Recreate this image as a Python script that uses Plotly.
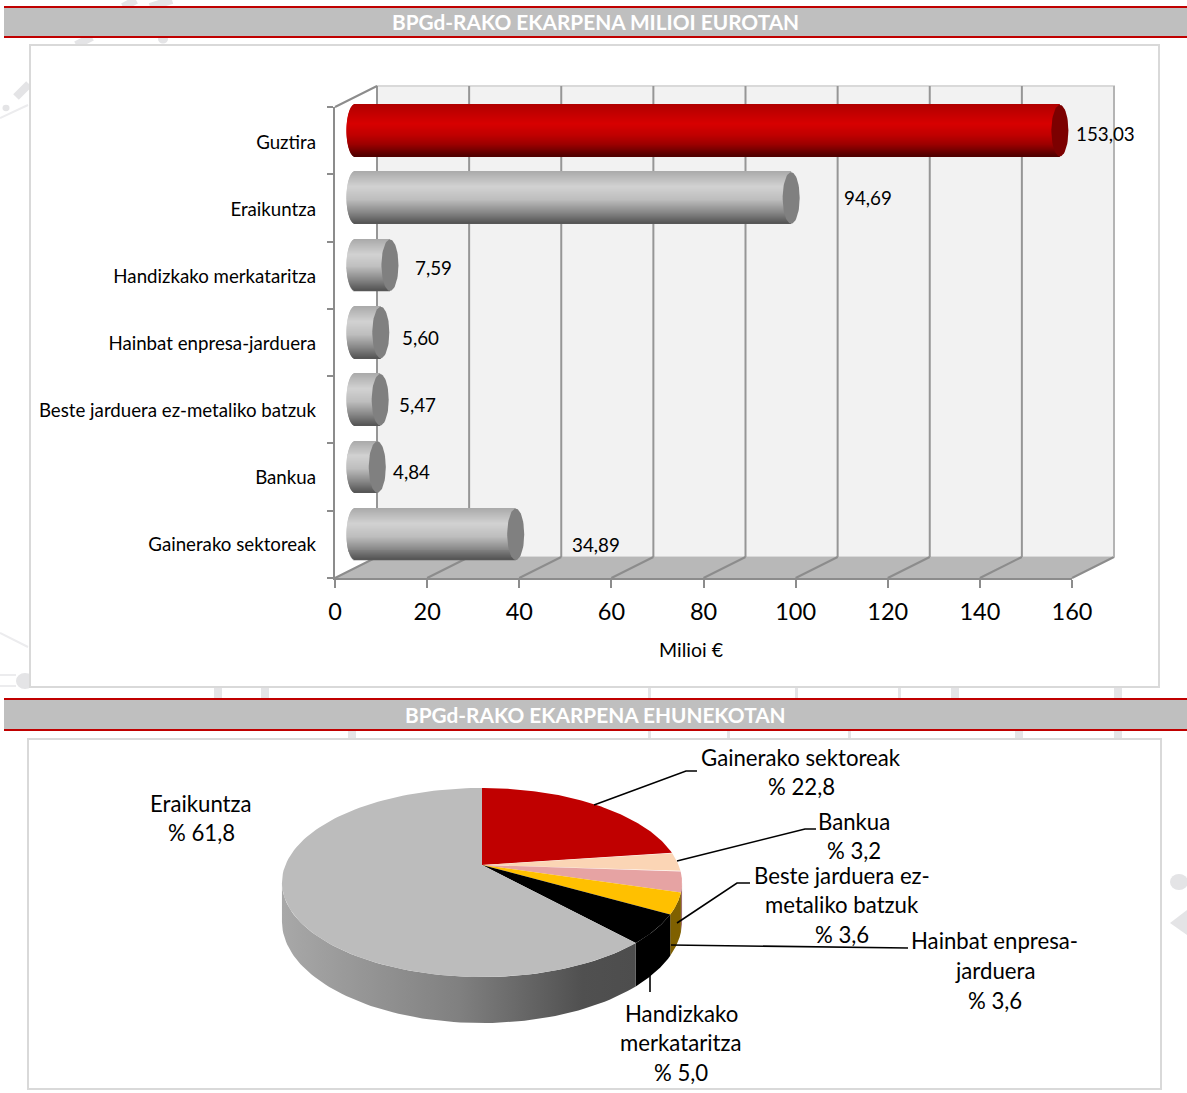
import numpy as np
import plotly.graph_objects as go

W, H = 1187, 1093

# bar chart data
categories = ["Guztira", "Eraikuntza", "Handizkako merkataritza", "Hainbat enpresa-jarduera",
              "Beste jarduera ez-metaliko batzuk", "Bankua", "Gainerako sektoreak"]
values = [153.03, 94.69, 7.59, 5.60, 5.47, 4.84, 34.89]
x_ticks = [0, 20, 40, 60, 80, 100, 120, 140, 160]
# data labels sit where the original author dragged them (px from the bar end / bar centre)
label_dx = [14, 51, 23, 19, 17, 14, 54]
label_dy = [3, 0, 2, 5, 5, 4, 10]

# pie data, clockwise from 12 o'clock
pie_names = ["Gainerako sektoreak", "Bankua", "Beste jarduera ez-metaliko batzuk",
             "Hainbat enpresa-jarduera", "Handizkako merkataritza", "Eraikuntza"]
pie_values = [22.8, 3.2, 3.6, 3.6, 5.0, 61.8]
pie_colors = ["#c00000", "#fbd5b5", "#e6a3a3", "#ffc000", "#000000", "#bcbcbc"]
pie_sides = ["#800000", "#a88c78", "#a06f6f", "#7f6000", "#000000", None]
pie_lines = [["Gainerako sektoreak", "% 22,8"], ["Bankua", "% 3,2"],
             ["Beste jarduera ez-", "metaliko batzuk", "% 3,6"],
             ["Hainbat enpresa-", "jarduera", "% 3,6"],
             ["Handizkako", "merkataritza", "% 5,0"], ["Eraikuntza", "% 61,8"]]
pie_label_xy = [(801, 757), (854, 821), (842, 875), (995, 941), (681, 1013), (201, 803)]
leaders = [[(594, 805), (686, 771), (697, 771)], [(677, 861), (805, 829), (816, 829)],
           [(677, 923), (737, 883), (750, 883)], [(671, 945), (908, 948)],
           [(650, 975), (650, 992)]]

# faint page watermark showing round the panels
wm_lines = [[(16, 97), (29, 84)], [(123, 7), (136, 0)], [(150, 7), (172, 0)], [(76, 45), (92, 37)]]
wm_thin = [[(0, 118), (28, 105)], [(0, 633), (28, 647)], [(0, 675), (16, 675)], [(0, 686), (16, 686)]]
wm_dots = [(6, 108, 3.5), (25, 681, 9), (163, 39, 5), (1179, 882, 9)]
wm_gaps = [(214, 688, 8), (261, 688, 8), (648, 688, 3), (795, 688, 3), (898, 688, 3), (951, 688, 8), (1114, 688, 8),
           (348, 731, 8), (648, 731, 3), (727, 731, 3), (848, 731, 3), (1015, 731, 8), (1114, 731, 8)]

FONT = "Lato"


def px(x):
    return x / W


def py(y):
    return 1 - y / H


def rect(x0, y0, x1, y1, fill=None, line=None, lw=0):
    return dict(type="rect", xref="paper", yref="paper", x0=px(x0), x1=px(x1), y0=py(y0), y1=py(y1),
                fillcolor=fill, line=dict(color=line, width=lw), layer="below")


def poly(pts, fill=None, line=None, lw=0, layer="below"):
    d = "M" + " L".join(f"{px(a):.5f},{py(b):.5f}" for a, b in pts)
    if fill:
        d += " Z"
    return dict(type="path", xref="paper", yref="paper", path=d, fillcolor=fill,
                line=dict(color=line, width=lw), layer=layer)


shapes = []
WM = "#e4e4e6"
for pts in wm_lines:
    shapes.append(poly(pts, line=WM, lw=8))
for pts in wm_thin:
    shapes.append(poly(pts, line="#ececee", lw=2))
for cx, cy, r in wm_dots:
    shapes.append(dict(type="circle", xref="paper", yref="paper", x0=px(cx - r), x1=px(cx + r),
                       y0=py(cy - r * 0.9), y1=py(cy + r * 0.9), fillcolor=WM, line_width=0, layer="below"))
shapes.append(poly([(1170, 923), (1187, 910), (1187, 935)], fill=WM))
for gx, gy, gw in wm_gaps:
    shapes.append(rect(gx, gy, gx + gw, gy + 10, fill=WM))

# header bands and white panels
for top, bottom in [(7, 37), (699, 730)]:
    shapes.append(rect(4, top, W, bottom, fill="#bfbfbf"))
    shapes.append(rect(4, top - 1, W, top + 1, fill="#c00000"))
    shapes.append(rect(4, bottom - 1, W, bottom + 1, fill="#c00000"))
shapes.append(rect(30, 45, 1159, 687, fill="white", line="#d9d9d9", lw=2))
shapes.append(rect(28, 739, 1161, 1089, fill="white", line="#d9d9d9", lw=2))

# 3D box behind the bars
front_l, front_r, front_t, front_b = 335, 1072, 107, 578
dx, dy = 42, -21
GRID = "#969696"
shapes.append(rect(front_l + dx, front_t + dy, front_r + dx, front_b + dy, fill="#f2f2f2", line="#d9d9d9", lw=2))
shapes.append(poly([(front_l, front_b), (front_r, front_b), (front_r + dx, front_b + dy), (front_l + dx, front_b + dy)],
                   fill="#b8b8b8"))
for t in x_ticks:
    fx = front_l + (front_r - front_l) * t / x_ticks[-1]
    shapes.append(poly([(fx, front_b), (fx + dx, front_b + dy)], line="#8c8c8c", lw=2))
    shapes.append(poly([(fx + dx, front_b + dy), (fx + dx, front_t + dy)],
                       line="#b4b4b4" if t == x_ticks[-1] else GRID, lw=2))
shapes.append(poly([(front_l, front_t), (front_l + dx, front_t + dy)], line="#8c8c8c", lw=2))

fig = go.Figure()

# dummy traces so the front axis and the label axis (y4) get drawn
fig.add_trace(go.Scatter(x=[0] * len(categories), y=list(range(len(categories))), mode="none", xaxis="x", yaxis="y4",
                         showlegend=False, hoverinfo="skip"))
fig.add_trace(go.Scatter(x=[0] * len(categories), y=list(range(len(categories))), mode="none", xaxis="x", yaxis="y",
                         showlegend=False, hoverinfo="skip"))

# cylinders: each bar is a stack of thin strips so it can carry a vertical gradient
GREY = [(0, (170, 170, 170)), (0.3, (210, 210, 210)), (0.55, (190, 190, 190)), (0.8, (135, 135, 135)), (1, (85, 85, 85))]
RED = [(0, (176, 0, 0)), (0.38, (216, 0, 0)), (0.6, (192, 0, 0)), (0.78, (155, 0, 0)), (1, (80, 0, 0))]


def ramp(stops, t):
    for (t0, c0), (t1, c1) in zip(stops, stops[1:]):
        if t <= t1:
            f = (t - t0) / (t1 - t0)
            return "rgb(%d,%d,%d)" % tuple(a + (b - a) * f for a, b in zip(c0, c1))
    return "rgb(%d,%d,%d)" % stops[-1][1]


n_strips = 52
bar_w = 0.765
cap_a = 1.85  # ellipse half-width, value units
bar_zero = 355  # px where value 0 of the bars falls (3D depth shift from the axis)
scale = (front_r - front_l) / x_ticks[-1]
ypos = np.arange(len(values))
for k in range(n_strips):
    t = (k + 0.5) / n_strips
    bulge = cap_a * np.sqrt(max(0, 1 - (2 * t - 1) ** 2))
    fig.add_trace(go.Bar(
        y=ypos + (t - 0.5) * bar_w, x=[v + bulge for v in values], base=-bulge,
        width=bar_w / n_strips * 1.4, orientation="h", xaxis="x2", yaxis="y2",
        marker=dict(color=[ramp(RED if i == 0 else GREY, t) for i in range(len(values))], line_width=0),
        showlegend=False, hoverinfo="skip"))

ang = np.linspace(0, 2 * np.pi, 60)
for i, v in enumerate(values):
    fig.add_trace(go.Scatter(x=v + cap_a * np.cos(ang), y=i + bar_w / 2 * np.sin(ang), mode="lines",
                             line_width=0, fill="toself", fillcolor="#808080" if i else "#7c0000",
                             xaxis="x2", yaxis="y2", showlegend=False, hoverinfo="skip"))


# pie: a disc seen in perspective, so the apex sits above the ellipse centre
def project(theta, r=1.0):
    X, Y = r * np.sin(theta), r * np.cos(theta)
    den = 1 + 0.185 * Y
    return 482 + 196.6 * X / den, 865 - 91.3 * Y / den, 37.5 / den


edges = np.cumsum([0] + pie_values) / sum(pie_values) * 2 * np.pi
vis_from, vis_to = np.radians(100.9), np.radians(259)
# side walls first, top faces over them
for i in range(len(pie_values)):
    a0, a1 = max(edges[i], vis_from), min(edges[i + 1], vis_to)
    if a1 <= a0:
        continue
    th = np.linspace(a0, a1, 80)
    sx, sy, d = project(th)
    xs = np.r_[sx, sx[::-1]]
    ys = np.r_[sy, (sy + d)[::-1]]
    if pie_sides[i]:
        kw = dict(fillcolor=pie_sides[i])
    else:
        kw = dict(fillgradient=dict(type="horizontal", colorscale=[
            [0, "#a8a8a8"], [0.5, "#808080"], [0.85, "#505050"], [1, "#4d4d4d"]]))
    fig.add_trace(go.Scatter(x=xs, y=ys, mode="lines", line_width=0, fill="toself", xaxis="x3", yaxis="y3",
                             showlegend=False, hoverinfo="skip", **kw))
for i in range(len(pie_values)):
    th = np.linspace(edges[i], edges[i + 1], 120)
    sx, sy, _ = project(th)
    ax, ay, _ = project(0.0, 0.0)
    fig.add_trace(go.Scatter(x=np.r_[ax, sx, ax], y=np.r_[ay, sy, ay], mode="lines", line_width=0,
                             fill="toself", fillcolor=pie_colors[i], name=pie_names[i], xaxis="x3", yaxis="y3",
                             showlegend=False, hoverinfo="skip"))

for pts in leaders:
    shapes.append(poly(pts, line="black", lw=1.6, layer="above"))

annotations = []


def text(x, y, s, size, color="black", bold=False, anchor="center"):
    annotations.append(dict(x=px(x), y=py(y), xref="paper", yref="paper", text=f"<b>{s}</b>" if bold else s,
                            showarrow=False, xanchor=anchor, yanchor="middle",
                            font=dict(family=FONT, size=size, color=color)))


text(596, 21.5, "BPGd-RAKO EKARPENA MILIOI EUROTAN", 20.8, color="white", bold=True)
text(596, 714, "BPGd-RAKO EKARPENA EHUNEKOTAN", 20.8, color="white", bold=True)
text(691, 649, "Milioi €", 19.5)
for (lx, ly), lines in zip(pie_label_xy, pie_lines):
    for j, s in enumerate(lines):
        text(lx, ly + j * 29.5, s, 22.2)
for i, v in enumerate(values):
    annotations.append(dict(x=v, y=i, xref="x2", yref="y2", text=f"{v:.2f}".replace(".", ","), showarrow=False,
                            xanchor="left", yanchor="middle", xshift=label_dx[i], yshift=label_dy[i] * -1,
                            font=dict(family=FONT, size=18.8, color="black")))

n = len(categories)
fig.update_layout(
    width=W, height=H, autosize=False, margin=dict(l=0, r=0, t=0, b=0),
    paper_bgcolor="white", plot_bgcolor="rgba(0,0,0,0)", barmode="overlay", showlegend=False,
    shapes=shapes, annotations=annotations, font=dict(family=FONT, color="black"),
    xaxis=dict(domain=[px(front_l), px(front_r)], range=[0, x_ticks[-1]], tickvals=x_ticks,
               ticks="outside", ticklen=8, tickwidth=2, tickcolor="#8c8c8c", showgrid=False, zeroline=False,
               showline=True, linecolor="#8c8c8c", linewidth=2, anchor="y", automargin=False,
               ticklabelstandoff=4, tickfont=dict(size=23.5, color="black")),
    # front axis: ticks between the categories, no labels
    yaxis=dict(domain=[py(front_b), py(front_t)], range=[n - 0.5, -0.5], tickvals=[i - 0.5 for i in range(n + 1)],
               showticklabels=False, ticks="outside", ticklen=6, tickwidth=2, tickcolor="#8c8c8c", showgrid=False,
               zeroline=False, showline=True, linecolor="#8c8c8c", linewidth=2, anchor="x", automargin=False),
    # labels live on their own axis, a touch lower than the ticks
    yaxis4=dict(domain=[py(front_b), py(front_t + 2)], range=[n - 0.5, -0.5], tickvals=list(range(n)),
                ticktext=categories, ticks="", showgrid=False, zeroline=False, showline=False, anchor="x",
                automargin=False, ticklabelstandoff=18, tickfont=dict(size=18.7, color="black")),
    xaxis2=dict(domain=[px(front_l), px(front_r + 40)], range=[(front_l - bar_zero) / scale, (front_r + 40 - bar_zero) / scale],
                visible=False, anchor="y2", automargin=False),
    yaxis2=dict(domain=[py(front_b - 10), py(front_t - 10)], range=[n - 0.5, -0.5], visible=False,
                anchor="x2", automargin=False),
    xaxis3=dict(domain=[0, 1], range=[0, W], visible=False, anchor="y3", automargin=False),
    yaxis3=dict(domain=[0, 1], range=[H, 0], visible=False, anchor="x3", automargin=False),
)

fig.write_html("out.html", config={"displayModeBar": False}, post_script="document.body.style.margin='0';")
